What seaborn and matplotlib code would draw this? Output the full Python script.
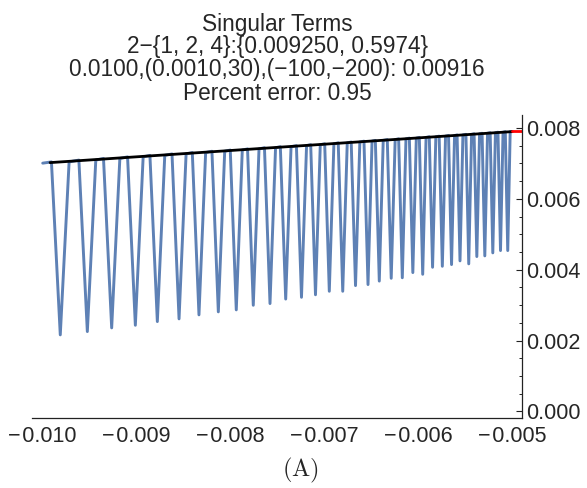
import numpy as np
import pandas as pd
import seaborn as sns
import matplotlib.pyplot as plt
from matplotlib.ticker import MultipleLocator, FuncFormatter

# Data (values in units of 1e-3)
trough_x = [-9.813, -9.525, -9.266, -9.014, -8.780, -8.549, -8.337, -8.131, -7.940, -7.759,
            -7.581, -7.414, -7.246, -7.097, -6.950, -6.807, -6.671, -6.538, -6.418, -6.291,
            -6.173, -6.061, -5.956, -5.851, -5.747, -5.649, -5.559, -5.466, -5.380, -5.295,
            -5.210, -5.128, -5.051]
trough_y = [2.161, 2.254, 2.358, 2.432, 2.536, 2.612, 2.725, 2.810, 2.866, 2.996,
            3.044, 3.171, 3.221, 3.292, 3.391, 3.391, 3.551, 3.580, 3.678, 3.757,
            3.772, 3.918, 3.870, 4.068, 4.096, 4.144, 4.248, 4.164, 4.370, 4.389,
            4.474, 4.539, 4.539]
peak_y = [7.040, 7.091, 7.137, 7.182, 7.224, 7.265, 7.303, 7.340, 7.374, 7.407,
          7.439, 7.468, 7.498, 7.525, 7.551, 7.577, 7.601, 7.625, 7.647, 7.669,
          7.690, 7.710, 7.729, 7.748, 7.766, 7.784, 7.800, 7.817, 7.832, 7.847,
          7.863, 7.877, 7.891]
dip_half_width = [0.094, 0.090, 0.087, 0.083, 0.079, 0.075, 0.071, 0.068, 0.064, 0.061,
                  0.059, 0.057, 0.054, 0.051, 0.049, 0.048, 0.046, 0.043, 0.042, 0.042,
                  0.039, 0.037, 0.036, 0.035, 0.034, 0.032, 0.031, 0.030, 0.029, 0.029,
                  0.028, 0.027, 0.026]
blue_start = (-10.0, 7.005)
blue_end = (-5.0, 7.895)

black_x = [-9.922, -5.005]
black_y = [7.020, 7.895]
red_x = [-5.005, -4.899]
red_y = [7.900, 7.900]

title_lines = ["Singular Terms",
               "2\u2212{1, 2, 4}:{0.009250, 0.5974}",
               "0.0100,(0.0010,30),(\u2212100,\u2212200): 0.00916",
               "Percent error: 0.95"]

# Build the blue curve vertices
bx = [blue_start[0]]
by = [blue_start[1]]
for tx, ty, py, hw in zip(trough_x, trough_y, peak_y, dip_half_width):
    bx += [tx - hw, tx, tx + hw]
    by += [py, ty, py]
bx.append(blue_end[0])
by.append(blue_end[1])

blue = pd.DataFrame({'x': np.array(bx) * 1e-3, 'y': np.array(by) * 1e-3})
black = pd.DataFrame({'x': np.array(black_x) * 1e-3, 'y': np.array(black_y) * 1e-3})
red = pd.DataFrame({'x': np.array(red_x) * 1e-3, 'y': np.array(red_y) * 1e-3})

# Figure
sns.set_style("white")
plt.rcParams['font.family'] = ['Liberation Sans', 'DejaVu Sans']
plt.rcParams['mathtext.fontset'] = 'cm'

fig = plt.figure(figsize=(5.87, 4.88), dpi=100)
ax = fig.add_axes([0.0545, 0.1441, 0.8348, 0.6203])

sns.lineplot(data=blue, x='x', y='y', sort=False, estimator=None, color='#5E81B5', lw=2.1, ax=ax)
sns.lineplot(data=black, x='x', y='y', sort=False, estimator=None, color='black', lw=2.0, ax=ax)
sns.lineplot(data=red, x='x', y='y', sort=False, estimator=None, color='#ff0000', lw=2.0, ax=ax)

ax.set_xlim(-0.010114, -0.004899)
ax.set_ylim(-0.000175, 0.008364)
ax.set_xlabel("")
ax.set_ylabel("")

# Axes in Mathematica style: x axis at bottom, y axis at right
for s in ['top', 'left']:
    ax.spines[s].set_visible(False)
for s in ['bottom', 'right']:
    ax.spines[s].set_color('#222222')
    ax.spines[s].set_linewidth(0.9)

ax.yaxis.tick_right()
ax.xaxis.set_major_locator(MultipleLocator(0.001))
ax.xaxis.set_minor_locator(MultipleLocator(0.0002))
ax.yaxis.set_major_locator(MultipleLocator(0.002))
ax.yaxis.set_minor_locator(MultipleLocator(0.0005))
fmt = FuncFormatter(lambda v, p: f"{v:.3f}".replace('-', '\u2212\u200a'))
ax.xaxis.set_major_formatter(fmt)
ax.yaxis.set_major_formatter(fmt)
ax.tick_params(which='major', direction='in', length=4, width=0.8, color='#222222', labelsize=15.5)
ax.tick_params(axis='x', which='major', pad=6)
ax.tick_params(axis='y', which='major', pad=3)
ax.tick_params(which='minor', direction='in', length=2.2, width=0.7, color='#222222')

#Title lines
for line, yc in zip(title_lines, [0.9508, 0.9037, 0.8566, 0.8094]):
    fig.text(0.472, yc, line, ha='center', va='center', fontsize=16.3)

fig.text(0.511, 0.037, r'$\mathrm{(A)}$', ha='center', va='center', fontsize=17.5)

fig.savefig('out.png', dpi=100)
